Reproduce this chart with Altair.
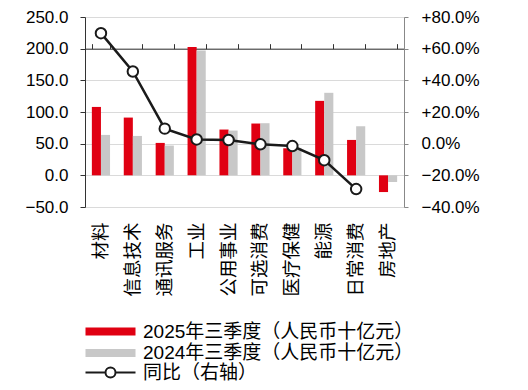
import altair as alt
import pandas as pd

cats = ["材料", "信息技术", "通讯服务", "工业", "公用事业", "可选消费", "医疗保健", "能源", "日常消费", "房地产"]
v2025 = [108.0, 91.2, 51.2, 202.5, 72.3, 81.8, 42.7, 117.6, 55.9, -26.4]
v2024 = [63.8, 62.2, 47.0, 197.0, 70.7, 82.3, 43.4, 130.3, 77.5, -10.5]
yoy = [69.8, 45.6, 9.5, 2.7, 2.3, -0.4, -1.5, -10.4, -28.7, None]

s25 = "2025年三季度（人民币十亿元）"
s24 = "2024年三季度（人民币十亿元）"
s_line = "同比（右轴）"

RED = "#E00012"
GRAY = "#C8C8C8"
FONT = "Liberation Sans, Noto Sans CJK SC"
CJK = "Noto Sans CJK SC"

rows = []
for c, a, b in zip(cats, v2025, v2024):
    rows.append({"cat": c, "series": s25, "value": a})
    rows.append({"cat": c, "series": s24, "value": b})
bars_df = pd.DataFrame(rows)

line_df = pd.DataFrame({"cat": cats, "yoy": yoy, "s": [s_line] * len(cats)}).dropna()

xscale = alt.Scale(paddingInner=0.43, paddingOuter=0.215)

bars = alt.Chart(bars_df).mark_bar().encode(
    x=alt.X("cat:N", sort=cats, scale=xscale, title=None,
            axis=alt.Axis(labelAngle=-90, labelAlign="right", labelBaseline="middle",
                          domain=False, ticks=False, grid=False, labelPadding=15,
                          labelFont=CJK, labelFontSize=18.5, labelColor="#000")),
    xOffset=alt.XOffset("series:N", sort=[s25, s24], scale=alt.Scale(domain=[s25, s24])),
    y=alt.Y("value:Q", title=None,
            scale=alt.Scale(domain=[-50, 250], nice=False, zero=False),
            axis=alt.Axis(orient="left", values=[-50, 0, 50, 100, 150, 200, 250], format=".1f",
                          grid=True, gridColor="#DADADA", domainColor="#333", tickColor="#333",
                          tickSize=5, labelPadding=12, labelFont=FONT, labelFontSize=17,
                          labelColor="#000")),
    color=alt.Color("series:N", sort=[s25, s24],
                    scale=alt.Scale(domain=[s25, s24], range=[RED, GRAY]),
                    legend=alt.Legend(title=None, orient="none", legendX=-5, legendY=305,
                                      symbolType="M-1,-1L11.5,-1L11.5,1L-1,1Z",
                                      symbolSize=64, symbolStrokeWidth=0,
                                      labelFont=FONT, labelFontSize=19, labelColor="#000",
                                      labelOffset=44, rowPadding=1.5, labelLimit=400)),
)

line = alt.Chart(line_df).mark_line(strokeWidth=2.5).encode(
    x=alt.X("cat:N", sort=cats, scale=xscale, title=None,
            axis=alt.Axis(offset=-31.667, labels=False, domain=True, ticks=True, tickBand="extent",
                          grid=False, domainColor="#333", tickColor="#333", tickSize=5)),
    y=alt.Y("yoy:Q", title=None,
            scale=alt.Scale(domain=[-40, 80], nice=False, zero=False),
            axis=alt.Axis(orient="right", values=[-40, -20, 0, 20, 40, 60, 80], grid=False,
                          labelExpr="(datum.value > 0 ? '+' : '') + format(datum.value, '.1f') + '%'",
                          domainColor="#888", tickColor="#888", tickSize=4, labelPadding=13,
                          labelFont=FONT, labelFontSize=17, labelColor="#000")),
    stroke=alt.Stroke("s:N", scale=alt.Scale(domain=[s_line], range=["#1A1A1A"]),
                      legend=alt.Legend(title=None, orient="none", legendX=-5, legendY=346,
                                        symbolType="M-1,0L4,0M6.5,0L11.5,0M6.5,0A1.25,1.25,0,1,1,4,0A1.25,1.25,0,1,1,6.5,0Z",
                                        symbolSize=64, symbolFillColor="white", symbolStrokeWidth=2,
                                        labelFont=FONT, labelFontSize=19, labelColor="#000",
                                        labelOffset=44, labelLimit=400)),
)

points = alt.Chart(line_df).mark_point(filled=True, fill="white", stroke="#1A1A1A",
                                       strokeWidth=2, size=110, opacity=1).encode(
    x=alt.X("cat:N", sort=cats, scale=xscale, axis=None),
    y=alt.Y("yoy:Q", scale=alt.Scale(domain=[-40, 80], nice=False, zero=False), axis=None),
)

chart = alt.layer(bars, line, points).resolve_scale(
    y="independent"
).resolve_axis(x="independent").properties(
    width=319, height=190,
    autosize=alt.AutoSizeParams(type="none"),
    padding={"left": 77, "top": 9, "right": 116, "bottom": 175},
).configure_view(stroke=None).configure(background="white")

chart.save("out.html", embed_options={"renderer": "svg", "actions": False})
